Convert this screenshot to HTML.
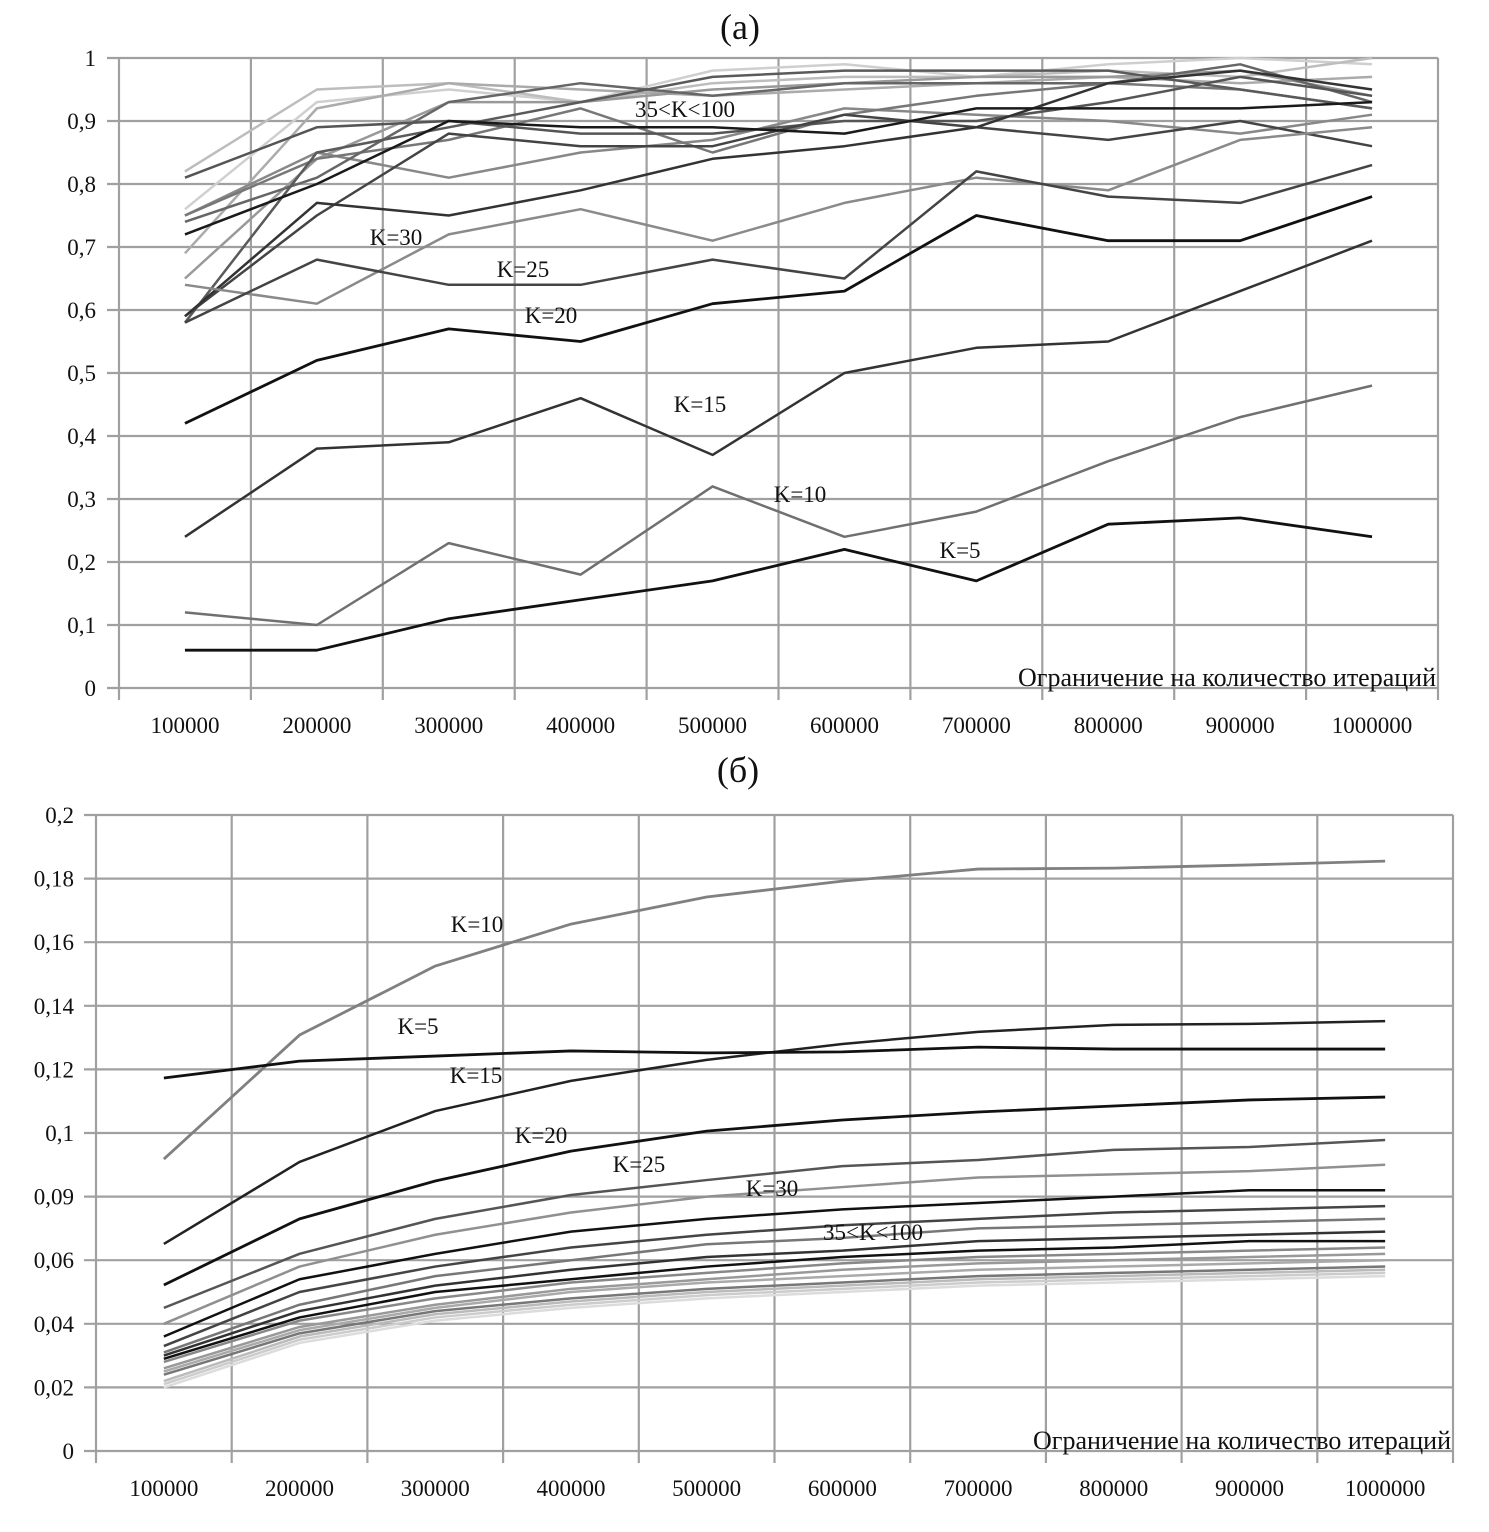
<!DOCTYPE html>
<html><head><meta charset="utf-8"><style>
body{margin:0;background:#fff;}
svg text{font-family:"Liberation Serif",serif;fill:#111;}
</style></head><body>
<svg id="s" width="1489" height="1527" xmlns="http://www.w3.org/2000/svg">
<text x="740" y="39" font-size="36" text-anchor="middle">(a)</text>
<text x="738" y="782" font-size="36" text-anchor="middle">(б)</text>
<g id="ga"></g>
<g id="gb"></g>
</svg>
<script>
const categories=["100000","200000","300000","400000","500000","600000","700000","800000","900000","1000000"];
const aTicks=["0","0,1","0,2","0,3","0,4","0,5","0,6","0,7","0,8","0,9","1"];
const bTicks=["0","0,02","0,04","0,06","0,09","0,1","0,12","0,14","0,16","0,18","0,2"];
const aK5=[0.06,0.06,0.11,0.14,0.17,0.22,0.17,0.26,0.27,0.24];
const aK10=[0.12,0.10,0.23,0.18,0.32,0.24,0.28,0.36,0.43,0.48];
const aK15=[0.24,0.38,0.39,0.46,0.37,0.50,0.54,0.55,0.63,0.71];
const aK20=[0.42,0.52,0.57,0.55,0.61,0.63,0.75,0.71,0.71,0.78];
const aK25=[0.58,0.68,0.64,0.64,0.68,0.65,0.82,0.78,0.77,0.83];
const aK30=[0.64,0.61,0.72,0.76,0.71,0.77,0.81,0.79,0.87,0.89];
const aHi1=[0.72,0.80,0.90,0.89,0.89,0.88,0.92,0.92,0.92,0.93];
const aHi2=[0.59,0.77,0.75,0.79,0.84,0.86,0.89,0.96,0.98,0.95];
const aHi3=[0.59,0.75,0.88,0.86,0.86,0.91,0.89,0.87,0.90,0.86];
const aHi4=[0.81,0.89,0.90,0.88,0.88,0.90,0.90,0.93,0.97,0.94];
const aHi5=[0.75,0.85,0.81,0.85,0.87,0.92,0.91,0.90,0.88,0.91];
const aHi6=[0.82,0.95,0.96,0.93,0.96,0.97,0.97,0.98,0.97,1.0];
const aHi7=[0.76,0.93,0.95,0.93,0.98,0.99,0.97,0.99,1.0,0.99];
const aHi8=[0.65,0.84,0.93,0.93,0.95,0.96,0.97,0.97,0.98,0.94];
const aHi9=[0.69,0.92,0.96,0.95,0.94,0.95,0.96,0.97,0.96,0.97];
const aHi10=[0.74,0.81,0.93,0.96,0.94,0.96,0.96,0.96,0.99,0.93];
const aHi11=[0.75,0.84,0.87,0.92,0.85,0.91,0.94,0.96,0.95,0.92];
const aHi12=[0.58,0.85,0.89,0.93,0.97,0.98,0.98,0.98,0.95,0.92];
const bK5=[0.1173,0.1226,0.1242,0.1258,0.1252,0.1255,0.1270,0.1264,0.1264,0.1264];
const bK10=[0.0918,0.1308,0.1525,0.1657,0.1742,0.1792,0.1830,0.1833,0.1843,0.1855];
const bK15=[0.0651,0.0909,0.1069,0.1164,0.1230,0.1280,0.1318,0.1340,0.1343,0.1352];
const bK20=[0.0522,0.0730,0.0849,0.0943,0.1006,0.1041,0.1066,0.1085,0.1104,0.1113];
const bK25=[0.045,0.062,0.073,0.0805,0.0852,0.0896,0.0915,0.0947,0.0956,0.0978];
const bK30=[0.040,0.058,0.068,0.075,0.080,0.083,0.086,0.087,0.088,0.090];
const bL1=[0.036,0.054,0.062,0.069,0.073,0.076,0.078,0.080,0.082,0.082];
const bL2=[0.033,0.050,0.058,0.064,0.068,0.071,0.073,0.075,0.076,0.077];
const bL3=[0.031,0.046,0.055,0.060,0.065,0.067,0.070,0.071,0.072,0.073];
const bL4=[0.030,0.044,0.052,0.057,0.061,0.063,0.066,0.067,0.068,0.069];
const bL5=[0.029,0.042,0.050,0.054,0.058,0.061,0.063,0.064,0.066,0.066];
const bL6=[0.028,0.041,0.048,0.053,0.056,0.059,0.061,0.062,0.063,0.064];
const bL7=[0.026,0.039,0.046,0.051,0.054,0.057,0.059,0.060,0.061,0.062];
const bL8=[0.025,0.038,0.045,0.050,0.053,0.055,0.057,0.058,0.059,0.060];
const bL9=[0.024,0.037,0.044,0.048,0.051,0.053,0.055,0.056,0.057,0.058];
const bL10=[0.022,0.036,0.043,0.047,0.050,0.052,0.054,0.055,0.056,0.057];
const bL11=[0.021,0.035,0.042,0.046,0.049,0.051,0.053,0.054,0.055,0.056];
const bL12=[0.020,0.034,0.041,0.045,0.048,0.050,0.052,0.053,0.054,0.055];

const NS="http://www.w3.org/2000/svg";
function mk(tag,attrs,parent){const e=document.createElementNS(NS,tag);for(const k in attrs)e.setAttribute(k,attrs[k]);parent.appendChild(e);return e;}

function chart(g,cfg){
  const {left,right,y0,y1,vmax,ticks,series,labels,titleY,tickX}=cfg;
  const n=categories.length, bw=(right-left)/n;
  const xs=i=>left+bw*(i+0.5);
  const ys=v=>y0-(v/vmax)*(y0-y1);
  for(let i=0;i<ticks.length;i++){
    const y=y0-(y0-y1)*i/(ticks.length-1);
    const l=mk('line',{x1:left-12,x2:right,y1:y,y2:y,stroke:'#a0a0a0','stroke-width':2.2},g);
    
    
    const t=mk('text',{x:tickX,y:y+8,'font-size':23,'text-anchor':'end'},g);
    t.textContent=ticks[i];
    
    
  }
  for(let i=0;i<=n;i++){
    const x=left+bw*i;
    const l=mk('line',{x1:x,x2:x,y1:y1,y2:y0+12,stroke:'#a0a0a0','stroke-width':2.2},g);
    
    
  }
  for(let i=0;i<n;i++){
    const t=mk('text',{x:xs(i),y:y0+45,'font-size':23,'text-anchor':'middle'},g);
    t.textContent=categories[i];
    
    
  }
  series.forEach(([vals,col,w,name])=>{
    const p=mk('polyline',{points:vals.map((v,i)=>xs(i)+','+ys(v)).join(' '),fill:'none',stroke:col,'stroke-width':w,'stroke-linejoin':'round'},g);
    
    
  });
  const at=mk('text',{x:right-2,y:titleY,'font-size':26,'text-anchor':'end'},g);
  at.textContent='Ограничение на количество итераций';
  
  
  labels.forEach(([txt,x,y])=>{
    const t=mk('text',{x:x,y:y,'font-size':23,'text-anchor':'middle'},g);
    t.textContent=txt;
    
    
  });
}
chart(document.getElementById('ga'),{left:119,right:1438,y0:688,y1:58,vmax:1,ticks:aTicks,titleY:686,tickX:96,
 series:[[aHi7,'#cfcfcf',2.5,'line-hi7'],[aHi6,'#bdbdbd',2.5,'line-hi6'],[aHi9,'#ababab',2.5,'line-hi9'],[aHi8,'#999',2.5,'line-hi8'],
 [aHi5,'#888',2.5,'line-hi5'],[aHi11,'#777',2.5,'line-hi11'],[aHi10,'#666',2.5,'line-hi10'],[aHi12,'#5a5a5a',2.5,'line-hi12'],
 [aHi4,'#555',2.5,'line-hi4'],[aHi3,'#444',2.5,'line-hi3'],[aHi2,'#333',2.5,'line-hi2'],[aHi1,'#1a1a1a',2.5,'line-hi1'],
 [aK30,'#8a8a8a',2.5,'line-k30'],[aK25,'#444',2.5,'line-k25'],[aK20,'#111',2.8,'line-k20'],[aK15,'#333',2.5,'line-k15'],
 [aK10,'#707070',2.5,'line-k10'],[aK5,'#111',2.8,'line-k5']],
 labels:[['35<K<100',685,117],['K=30',396,245],['K=25',523,277],['K=20',551,323],['K=15',700,412],['K=10',800,502],['K=5',960,558]]});
chart(document.getElementById('gb'),{left:96,right:1453,y0:1451,y1:815,vmax:0.2,ticks:bTicks,titleY:1449,tickX:74,
 series:[[bL12,'#dcdcdc',2.5,'line-l12'],[bL11,'#cccccc',2.5,'line-l11'],[bL10,'#bbbbbb',2.5,'line-l10'],[bL9,'#777',2.5,'line-l9'],
 [bL8,'#aaa',2.5,'line-l8'],[bL7,'#999',2.5,'line-l7'],[bL6,'#888',2.5,'line-l6'],[bL5,'#111',2.5,'line-l5'],[bL4,'#333',2.5,'line-l4'],
 [bL3,'#777',2.5,'line-l3'],[bL2,'#444',2.5,'line-l2'],[bL1,'#111',2.5,'line-l1'],[bK30,'#909090',2.5,'line-k30'],
 [bK25,'#555',2.5,'line-k25'],[bK20,'#111',2.8,'line-k20'],[bK15,'#222',2.5,'line-k15'],[bK10,'#808080',2.8,'line-k10'],[bK5,'#111',2.8,'line-k5']],
 labels:[['K=10',477,932],['K=5',418,1034],['K=15',476,1083],['K=20',541,1143],['K=25',639,1172],['K=30',772,1196],['35<K<100',873,1240]]});
</script>
</body></html>
